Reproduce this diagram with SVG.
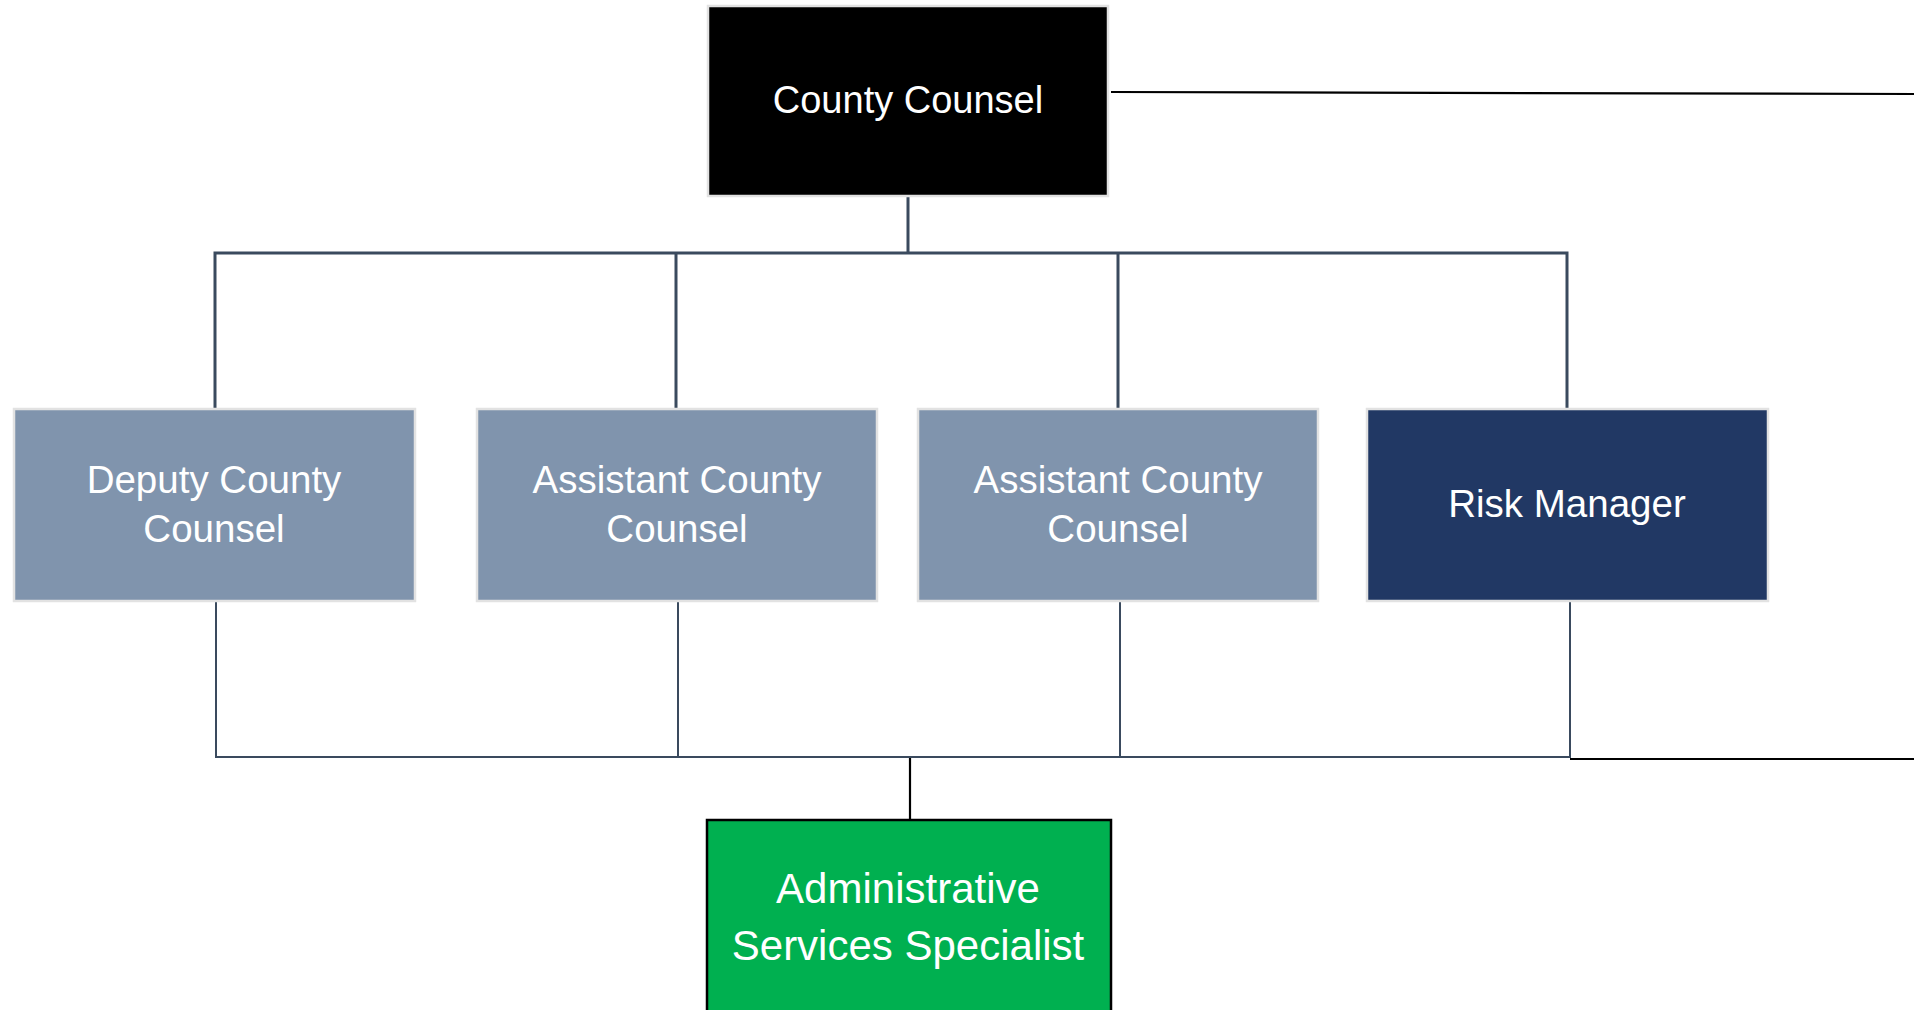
<svg xmlns="http://www.w3.org/2000/svg" width="1914" height="1010" viewBox="0 0 1914 1010">
<style>
.box{stroke:#e2e2e2;stroke-width:2.5}
.lt{fill:#8094ad}
.t{font-family:"Liberation Sans",Arial,sans-serif;fill:#ffffff;text-anchor:middle}
.s37{font-size:38.5px}
.s38{font-size:38px}
.s42{font-size:42px}
.c{fill:none;stroke:#3a4a5e;stroke-linecap:square}
.k{fill:none;stroke:#000000;stroke-width:2.2}
</style>
<rect width="1914" height="1010" fill="#ffffff"/>
<g id="connectors">
<path class="c" stroke-width="3" d="M908 198V253M215 253H1567M215 253V408M676 253V408M1118 253V408M1567 253V408"/>
<path class="c" stroke-width="2" d="M216 601V757M678 601V757M1120 601V757M1570 601V757M216 757H1570"/>
<path class="k" d="M1111 92L1914 94"/>
<path class="k" d="M1570 759H1914"/>
<path class="k" stroke-width="1.6" d="M910 758V819"/>
</g>
<g id="county-counsel">
<rect class="box" x="708" y="6" width="400" height="190" fill="#000000"/>
<text class="t s38" x="908" y="113">County Counsel</text>
</g>
<g id="deputy-county-counsel">
<rect class="box lt" x="14" y="409" width="401" height="192"/>
<text class="t s37" x="214" y="493">Deputy County</text>
<text class="t s37" x="214" y="542">Counsel</text>
</g>
<g id="assistant-county-counsel-1">
<rect class="box lt" x="477" y="409" width="400" height="192"/>
<text class="t s37" x="677" y="493">Assistant County</text>
<text class="t s37" x="677" y="542">Counsel</text>
</g>
<g id="assistant-county-counsel-2">
<rect class="box lt" x="918" y="409" width="400" height="192"/>
<text class="t s37" x="1118" y="493">Assistant County</text>
<text class="t s37" x="1118" y="542">Counsel</text>
</g>
<g id="risk-manager">
<rect class="box" x="1367" y="409" width="401" height="192" fill="#213864"/>
<text class="t s37" x="1567" y="517">Risk Manager</text>
</g>
<g id="administrative-services-specialist">
<rect x="707" y="820" width="404" height="200" fill="#00b050" stroke="#000000" stroke-width="2.5"/>
<text class="t s42" x="908" y="903">Administrative</text>
<text class="t s42" x="908" y="960">Services Specialist</text>
</g>
</svg>
